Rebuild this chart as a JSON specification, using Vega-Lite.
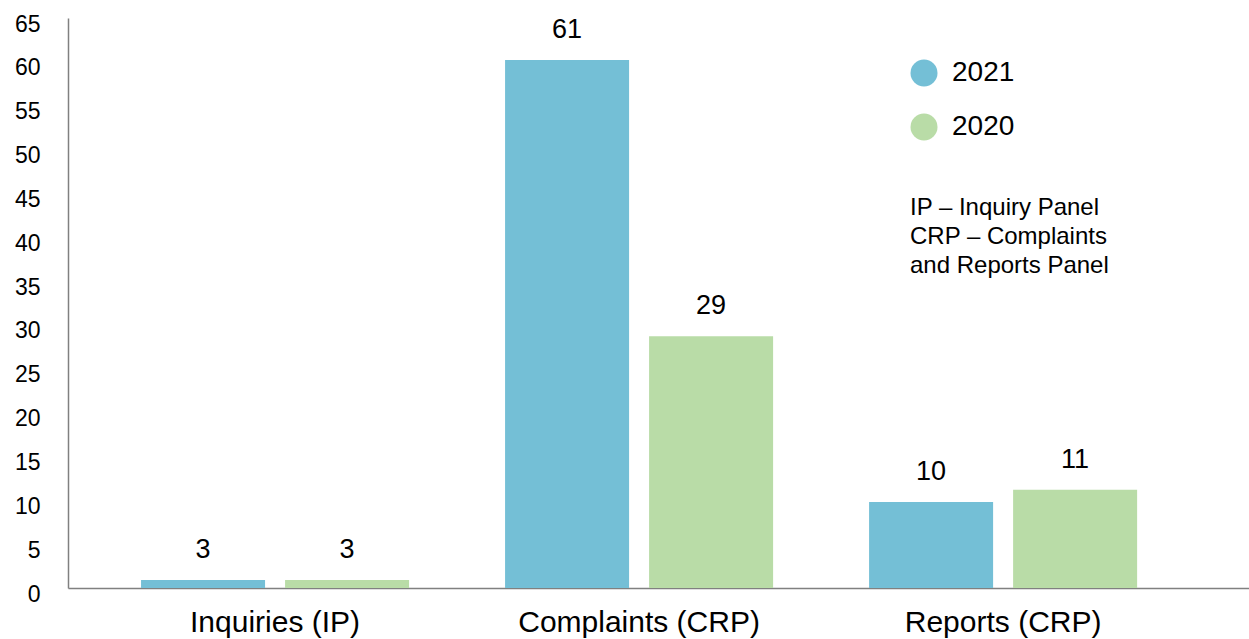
{
  "$schema": "https://vega.github.io/schema/vega-lite/v6.json",
  "width": 1181,
  "height": 570,
  "autosize": {"type": "none"},
  "padding": {"left": 68, "top": 18, "right": 0, "bottom": 51},
  "background": "white",
  "config": {
    "view": {"stroke": null},
    "font": "Liberation Sans",
    "text": {"font": "Liberation Sans"}
  },
  "data": {
    "values": [
      {"category": "Inquiries (IP)", "year": "2021", "value": 0.9, "label": "3"},
      {"category": "Inquiries (IP)", "year": "2020", "value": 0.9, "label": "3"},
      {"category": "Complaints (CRP)", "year": "2021", "value": 60.2, "label": "61"},
      {"category": "Complaints (CRP)", "year": "2020", "value": 28.7, "label": "29"},
      {"category": "Reports (CRP)", "year": "2021", "value": 9.8, "label": "10"},
      {"category": "Reports (CRP)", "year": "2020", "value": 11.2, "label": "11"}
    ]
  },
  "encoding": {
    "x": {
      "field": "category",
      "type": "nominal",
      "sort": ["Inquiries (IP)", "Complaints (CRP)", "Reports (CRP)"],
      "scale": {"paddingInner": 0.2637, "paddingOuter": 0.254, "align": 0.395},
      "axis": {
        "title": null,
        "labelAngle": 0,
        "ticks": false,
        "domainColor": "#808080",
        "domainWidth": 1.5,
        "labelFontSize": 30,
        "labelColor": "#000000",
        "labelFont": "Liberation Sans",
        "labelPadding": 19,
        "labelBaseline": "top",
        "labelLimit": 500,
        "labelOverlap": false
      }
    },
    "xOffset": {
      "field": "year",
      "type": "nominal",
      "sort": ["2021", "2020"],
      "scale": {"paddingInner": 0.1389, "paddingOuter": 0}
    },
    "y": {
      "field": "value",
      "type": "quantitative",
      "scale": {"domain": [0, 65], "nice": false},
      "axis": {
        "title": null,
        "grid": false,
        "ticks": false,
        "values": [0, 5, 10, 15, 20, 25, 30, 35, 40, 45, 50, 55, 60, 65],
        "domainColor": "#808080",
        "domainWidth": 1.5,
        "labelFontSize": 23,
        "labelColor": "#000000",
        "labelFont": "Liberation Sans",
        "labelPadding": 28,
        "labelOffset": 6
      }
    }
  },
  "layer": [
    {
      "mark": {"type": "bar"},
      "encoding": {
        "color": {
          "field": "year",
          "type": "nominal",
          "scale": {"domain": ["2021", "2020"], "range": ["#74BFD6", "#B9DCA7"]},
          "legend": {
            "orient": "none",
            "legendX": 842,
            "legendY": 41,
            "padding": 0,
            "symbolType": "circle",
            "symbolSize": 729,
            "symbolStrokeWidth": 0,
            "labelFontSize": 28,
            "labelFont": "Liberation Sans",
            "labelColor": "#000000",
            "labelOffset": 14,
            "labelLimit": 300,
            "rowPadding": 26,
            "title": ["IP – Inquiry Panel", "CRP – Complaints", "and Reports Panel"],
            "titleOrient": "bottom",
            "titleFontSize": 24,
            "titleFontWeight": "normal",
            "titleFont": "Liberation Sans",
            "titleColor": "#000000",
            "titleLineHeight": 29,
            "titleLimit": 500,
            "titlePadding": 55,
            "titleAnchor": "start",
            "titleAlign": "left",
            "titleBaseline": "top"
          }
        }
      }
    },
    {
      "mark": {
        "type": "text",
        "fontSize": 27,
        "font": "Liberation Sans",
        "color": "#000000",
        "baseline": "alphabetic",
        "dy": -22
      },
      "encoding": {
        "text": {"field": "label"}
      }
    }
  ]
}
